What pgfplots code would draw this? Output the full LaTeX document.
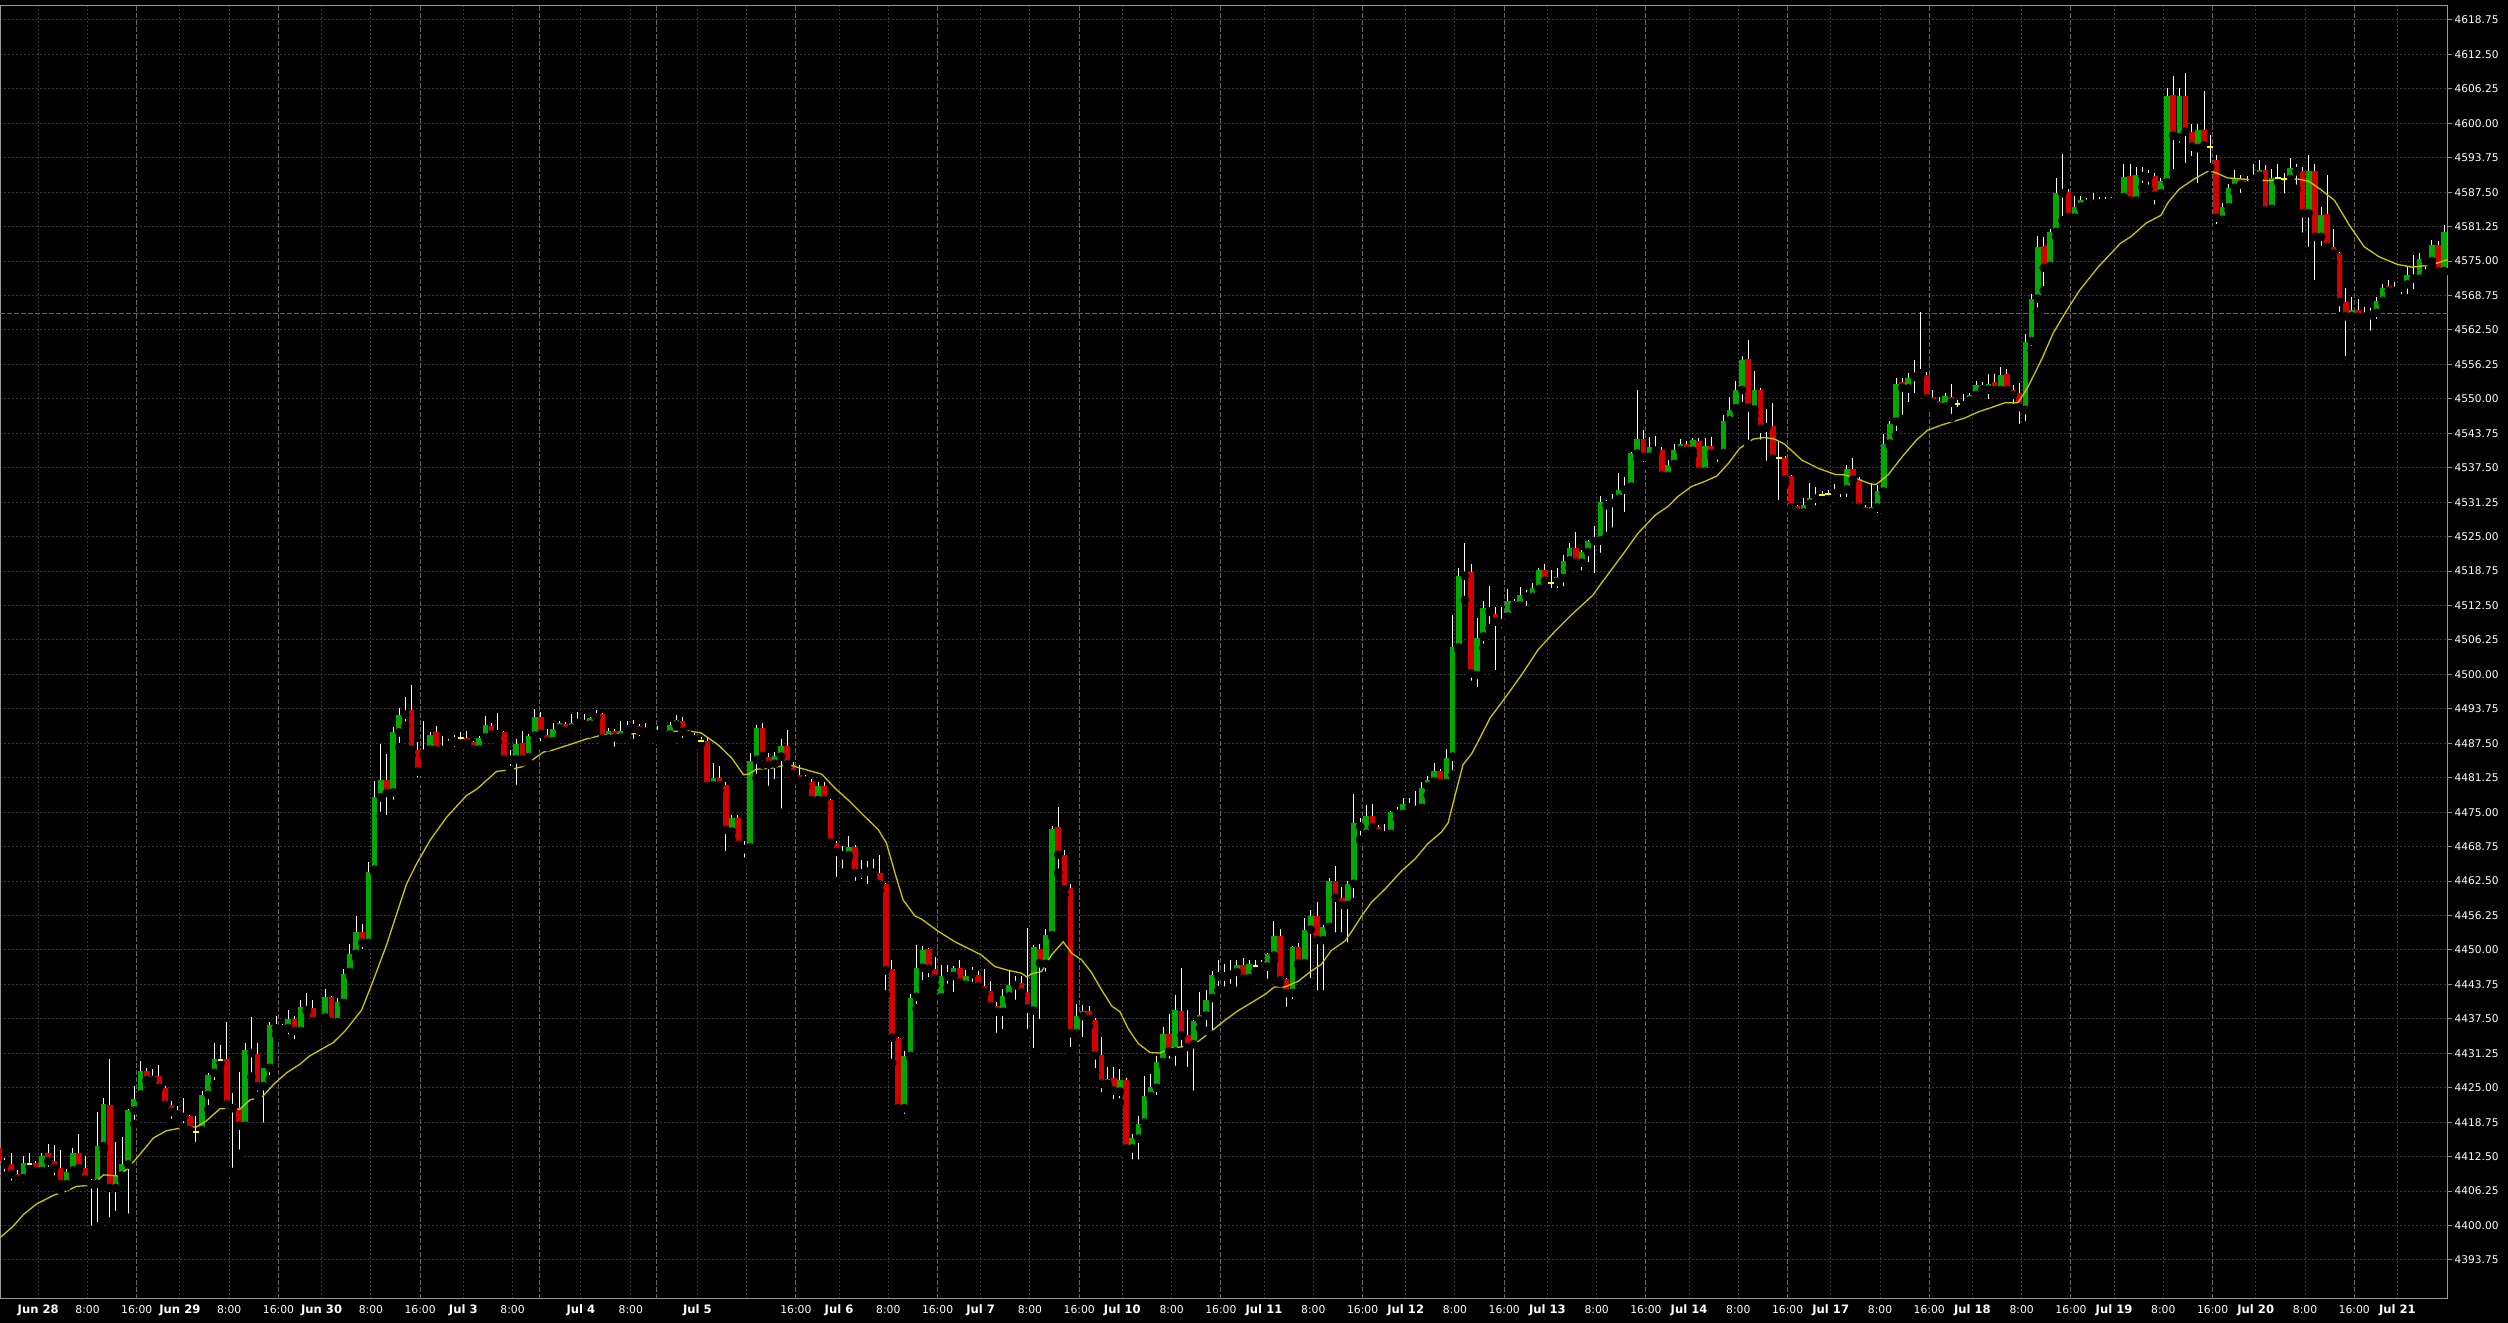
\documentclass[border=0pt]{standalone}
\usepackage{pgfplots}
\usepackage{pgfplotstable}
\pgfplotsset{compat=1.18}
\usepackage{fontspec}
\setmainfont{DejaVu Sans}
\definecolor{upcol}{RGB}{0,168,0}
\definecolor{dncol}{RGB}{212,0,0}
\definecolor{dojicol}{RGB}{255,255,0}
\definecolor{macol}{RGB}{200,200,0}
\definecolor{gridgray}{RGB}{56,56,56}
\definecolor{sessgray}{RGB}{100,100,100}
\definecolor{framegray}{RGB}{150,150,150}
\newcommand{\dl}[1]{{\fontsize{5.8}{6}\selectfont\bfseries #1}}
\pgfplotstableread{
j o h l c
-1 4414.0 4414.6 4411.3 4411.7
0 4411.7 4412.3 4409.0 4411.1
1 4411.1 4413.2 4407.4 4409.3
2 4409.3 4410.1 4407.0 4408.4
3 4408.6 4412.7 4407.0 4411.3
4 4411.2 4413.1 4410.6 4411.2
5 4411.3 4411.7 4408.4 4409.9
6 4409.9 4413.2 4409.0 4412.7
7 4413.1 4414.8 4409.9 4411.7
8 4411.7 4414.7 4408.3 4410.4
9 4410.4 4413.7 4406.4 4407.5
10 4407.5 4410.2 4407.1 4409.8
11 4410.0 4414.1 4409.7 4413.1
12 4413.1 4416.7 4409.9 4410.4
13 4410.4 4412.7 4408.1 4408.4
14 4408.1 4408.4 4399.2 4407.5
15 4407.6 4420.6 4399.8 4414.4
16 4414.4 4423.1 4413.8 4422.0
17 4421.8 4430.3 4400.7 4406.8
18 4406.8 4415.2 4401.9 4409.1
19 4409.1 4416.0 4408.2 4411.1
20 4411.1 4421.1 4401.4 4420.9
21 4420.9 4425.4 4418.4 4422.9
22 4423.8 4429.9 4422.8 4428.0
23 4428.0 4428.5 4426.2 4426.4
24 4426.4 4428.4 4425.0 4427.1
25 4427.1 4429.1 4424.9 4425.0
26 4425.0 4425.3 4421.8 4421.9
27 4421.9 4422.6 4418.6 4420.6
28 4420.6 4421.6 4419.3 4420.1
29 4420.1 4423.1 4417.8 4419.7
30 4419.8 4420.0 4416.6 4417.3
31 4417.0 4419.9 4414.4 4417.0
32 4417.3 4424.4 4416.7 4423.6
33 4423.7 4427.6 4421.1 4427.3
34 4427.7 4433.1 4425.6 4430.3
35 4430.0 4432.8 4429.5 4430.0
36 4430.2 4436.9 4420.5 4422.0
37 4422.0 4424.0 4409.7 4421.3
38 4421.3 4427.9 4413.0 4418.1
39 4418.1 4433.2 4417.2 4431.8
40 4431.8 4437.8 4427.0 4431.3
41 4431.2 4433.2 4423.5 4425.3
42 4425.3 4428.6 4417.9 4428.5
43 4428.6 4436.9 4426.5 4436.3
44 4436.4 4438.1 4434.7 4435.8
45 4435.6 4436.6 4434.1 4435.9
46 4435.8 4439.1 4433.9 4437.5
47 4437.4 4438.1 4433.0 4435.3
48 4435.3 4440.9 4435.0 4439.6
49 4439.6 4442.2 4438.9 4439.1
50 4439.4 4441.0 4436.1 4437.1
51 4437.5 4438.2 4437.0 4437.8
52 4437.8 4443.0 4436.8 4441.4
53 4441.4 4441.6 4436.5 4436.9
54 4436.9 4441.3 4435.6 4440.5
55 4440.4 4446.6 4440.0 4445.6
56 4446.0 4451.1 4445.2 4449.2
57 4449.3 4456.1 4448.6 4453.2
58 4453.2 4454.8 4449.4 4451.3
59 4451.3 4466.0 4451.0 4464.1
60 4464.6 4480.6 4464.0 4477.7
61 4477.7 4487.4 4474.3 4480.9
62 4480.9 4485.5 4473.7 4478.5
63 4478.6 4490.4 4476.5 4489.5
64 4489.5 4493.9 4486.8 4492.7
65 4492.7 4495.9 4490.7 4493.4
66 4493.6 4498.0 4485.3 4486.4
67 4486.2 4487.8 4480.5 4482.4
68 4485.6 4491.6 4485.3 4486.2
69 4486.4 4489.5 4486.0 4489.1
70 4489.5 4490.7 4484.9 4486.3
71 4486.3 4488.9 4484.9 4487.1
72 4487.2 4488.3 4486.9 4487.7
73 4487.8 4489.1 4486.1 4488.4
74 4488.4 4489.5 4487.4 4488.4
75 4488.5 4489.7 4487.3 4487.5
76 4487.7 4488.0 4484.9 4486.4
77 4486.4 4488.9 4486.2 4488.5
78 4488.6 4492.4 4488.3 4490.9
79 4490.7 4491.1 4488.3 4489.1
80 4489.1 4493.0 4487.7 4489.5
81 4489.5 4489.8 4484.1 4484.6
82 4484.9 4486.2 4482.6 4484.5
83 4484.6 4488.3 4479.2 4487.4
84 4487.6 4489.8 4484.1 4484.6
85 4485.0 4489.2 4484.1 4488.9
86 4488.9 4493.8 4488.0 4492.2
87 4492.2 4493.1 4487.1 4489.2
88 4489.1 4490.1 4486.8 4487.9
89 4487.9 4491.1 4487.3 4490.1
90 4490.2 4491.6 4488.9 4491.2
91 4491.0 4491.3 4488.9 4489.8
92 4490.2 4492.9 4489.8 4491.2
93 4491.2 4493.1 4490.7 4491.6
94 4491.8 4492.8 4490.9 4491.0
95 4490.9 4492.2 4489.3 4492.1
96 4492.2 4493.6 4492.1 4492.7
97 4492.8 4493.0 4486.9 4488.4
98 4488.4 4490.3 4487.3 4489.8
99 4489.8 4490.1 4486.1 4488.6
100 4488.6 4491.5 4488.3 4489.8
101 4490.0 4491.6 4489.2 4490.2
102 4490.2 4491.8 4487.5 4490.7
103 4490.7 4491.0 4488.0 4489.8
104 4489.6 4491.1 4488.0 4490.2
105 4490.2 4491.0 4489.2 4490.3
106 4489.8 4490.7 4488.0 4489.2
107 4489.0 4489.8 4487.7 4489.1
108 4489.1 4491.3 4487.5 4490.9
109 4490.9 4492.7 4490.7 4491.8
110 4491.6 4492.2 4487.7 4489.6
111 4489.6 4489.9 4487.5 4489.0
112 4489.0 4489.3 4487.5 4488.2
113 4488.0 4488.6 4487.4 4488.0
114 4487.9 4488.6 4479.0 4479.8
115 4479.9 4483.9 4478.5 4481.2
116 4481.2 4483.3 4478.9 4479.9
117 4479.9 4480.5 4467.2 4471.8
118 4471.5 4474.5 4470.0 4474.0
119 4474.0 4474.5 4468.5 4469.1
120 4469.1 4469.7 4466.0 4468.3
121 4468.6 4485.7 4467.7 4484.3
122 4484.5 4490.8 4481.2 4490.3
123 4490.3 4491.1 4483.6 4485.2
124 4485.1 4485.7 4479.0 4483.6
125 4483.8 4486.0 4480.2 4485.2
126 4485.1 4488.2 4474.9 4487.0
127 4487.0 4489.9 4483.1 4483.7
128 4483.5 4484.2 4481.5 4481.9
129 4481.7 4483.6 4480.2 4480.7
130 4481.0 4481.8 4479.6 4480.7
131 4480.5 4481.0 4476.3 4477.2
132 4477.2 4480.5 4476.5 4479.8
133 4479.8 4480.5 4476.1 4477.2
134 4477.2 4477.4 4469.2 4469.5
135 4469.5 4469.8 4462.5 4467.8
136 4467.8 4468.8 4464.0 4467.2
137 4467.2 4470.7 4466.9 4468.7
138 4468.7 4469.1 4461.8 4464.0
139 4463.9 4466.4 4462.1 4464.2
140 4464.2 4466.2 4461.2 4464.5
141 4464.6 4466.5 4462.8 4464.0
142 4463.9 4467.2 4460.8 4461.9
143 4461.9 4462.1 4441.9 4446.3
144 4446.5 4448.1 4429.5 4434.1
145 4434.1 4434.3 4420.3 4421.3
146 4421.3 4431.6 4419.5 4430.8
147 4430.8 4442.0 4430.4 4441.3
148 4441.5 4450.9 4439.4 4446.8
149 4446.8 4450.7 4443.7 4450.0
150 4450.1 4450.3 4444.3 4446.6
151 4446.5 4448.8 4443.5 4444.8
152 4441.4 4447.3 4441.3 4445.3
153 4445.5 4447.3 4443.1 4445.2
154 4445.3 4447.1 4441.6 4446.8
155 4446.7 4448.1 4442.6 4444.1
156 4443.7 4446.4 4442.6 4445.3
157 4445.6 4447.0 4443.4 4445.9
158 4445.5 4446.1 4442.9 4443.4
159 4443.5 4446.5 4442.0 4442.5
160 4442.5 4444.3 4439.3 4439.8
161 4439.8 4440.5 4434.2 4438.8
162 4438.8 4442.9 4434.9 4441.6
163 4441.6 4446.1 4440.8 4443.7
164 4443.6 4445.2 4440.2 4444.2
165 4444.0 4445.3 4441.7 4442.3
166 4442.3 4453.9 4434.9 4439.4
167 4439.0 4450.9 4431.4 4450.6
168 4450.1 4451.1 4436.7 4447.6
169 4447.5 4453.8 4445.3 4452.7
170 4452.7 4472.5 4452.4 4471.9
171 4472.3 4475.9 4464.0 4467.3
172 4467.3 4468.2 4460.0 4461.0
173 4461.3 4462.0 4431.6 4434.9
174 4434.9 4440.2 4433.6 4438.1
175 4438.0 4440.1 4433.4 4439.0
176 4439.0 4439.8 4436.2 4437.5
177 4437.3 4437.6 4427.8 4430.9
178 4431.0 4434.2 4423.4 4425.7
179 4425.7 4428.7 4425.2 4426.5
180 4426.8 4428.7 4422.2 4424.5
181 4424.3 4428.4 4422.3 4426.4
182 4426.4 4426.7 4413.0 4414.0
183 4414.0 4416.7 4411.2 4415.8
184 4415.8 4419.8 4411.2 4418.5
185 4418.7 4427.2 4418.0 4423.5
186 4423.5 4427.5 4422.9 4425.2
187 4425.0 4430.7 4422.9 4429.7
188 4429.7 4436.0 4429.0 4434.8
189 4434.8 4438.4 4429.5 4431.6
190 4431.6 4441.9 4428.2 4439.2
191 4438.9 4446.7 4431.5 4434.5
192 4434.5 4439.2 4428.0 4432.4
193 4432.9 4437.3 4423.7 4437.2
194 4437.2 4442.4 4435.8 4438.2
195 4438.1 4442.7 4435.3 4441.0
196 4441.3 4446.1 4434.6 4445.5
197 4445.5 4448.1 4442.7 4445.2
198 4445.7 4447.5 4442.6 4445.2
199 4445.5 4448.1 4443.1 4446.1
200 4446.0 4448.1 4442.6 4447.3
201 4447.3 4448.5 4443.8 4444.8
202 4444.9 4448.1 4443.6 4447.4
203 4447.1 4448.1 4446.1 4447.1
204 4447.3 4448.1 4445.4 4447.0
205 4447.0 4449.5 4444.0 4449.3
206 4449.0 4455.2 4448.1 4452.6
207 4452.6 4453.8 4444.0 4444.5
208 4444.7 4445.0 4438.9 4442.2
209 4442.2 4450.7 4440.3 4450.5
210 4450.5 4451.3 4447.1 4447.6
211 4447.6 4455.8 4447.4 4453.7
212 4453.7 4457.3 4444.1 4456.1
213 4456.1 4458.7 4441.9 4451.8
214 4451.8 4454.5 4441.9 4454.2
215 4454.2 4463.1 4453.9 4462.5
216 4462.5 4465.2 4452.4 4459.5
217 4459.5 4461.5 4452.4 4458.2
218 4458.2 4462.6 4450.6 4461.9
219 4462.0 4478.3 4458.7 4473.1
220 4473.0 4474.0 4470.0 4472.4
221 4471.1 4476.3 4470.0 4474.4
222 4474.4 4476.5 4471.2 4472.3
223 4472.3 4472.6 4470.0 4471.2
224 4471.2 4472.8 4469.8 4470.8
225 4471.1 4475.3 4470.9 4475.1
226 4475.0 4475.9 4473.8 4474.7
227 4474.7 4477.6 4473.8 4476.5
228 4476.3 4477.6 4475.1 4475.9
229 4475.9 4478.8 4475.1 4475.4
230 4475.8 4480.4 4474.4 4479.4
231 4479.7 4481.5 4478.1 4480.9
232 4480.6 4483.9 4480.1 4482.4
233 4482.4 4482.8 4479.7 4480.3
234 4480.3 4486.5 4479.9 4484.9
235 4485.1 4510.8 4481.8 4504.9
236 4504.9 4519.3 4504.4 4517.9
237 4517.9 4523.9 4513.5 4518.2
238 4518.6 4520.0 4498.1 4500.2
239 4499.9 4510.2 4496.9 4506.7
240 4506.9 4513.4 4504.8 4512.0
241 4512.0 4516.1 4508.4 4511.4
242 4511.0 4512.3 4500.0 4509.6
243 4509.3 4512.3 4507.6 4509.5
244 4510.5 4515.5 4509.2 4513.4
245 4513.3 4513.6 4512.0 4512.5
246 4512.5 4515.8 4512.0 4514.4
247 4514.7 4515.4 4511.6 4514.1
248 4514.1 4516.6 4513.2 4515.6
249 4515.5 4519.3 4515.5 4519.0
250 4519.0 4520.0 4516.4 4517.0
251 4516.6 4519.0 4514.9 4516.6
252 4516.8 4519.3 4514.9 4517.6
253 4517.5 4521.7 4515.2 4520.6
254 4520.7 4523.8 4519.3 4523.0
255 4523.0 4525.9 4519.6 4520.3
256 4520.3 4522.6 4518.1 4522.2
257 4522.2 4524.4 4519.6 4524.2
258 4524.6 4526.9 4517.6 4524.2
259 4524.3 4532.3 4521.3 4531.3
260 4531.3 4531.7 4525.1 4530.7
261 4531.1 4532.8 4525.9 4531.9
262 4531.9 4536.5 4530.8 4533.5
263 4533.5 4535.9 4528.7 4534.2
264 4534.1 4540.3 4533.4 4540.1
265 4540.1 4551.6 4539.2 4542.7
266 4542.7 4544.4 4537.8 4539.5
267 4539.5 4543.0 4538.4 4541.3
268 4541.3 4543.2 4540.3 4540.6
269 4540.7 4541.2 4534.5 4536.1
270 4536.0 4538.9 4535.2 4538.0
271 4538.2 4541.9 4538.0 4540.7
272 4540.7 4542.7 4540.4 4541.8
273 4541.8 4542.3 4540.3 4540.6
274 4540.6 4542.9 4539.8 4542.6
275 4542.4 4542.9 4536.0 4536.8
276 4536.8 4542.9 4536.4 4541.5
277 4541.5 4543.0 4539.5 4540.1
278 4540.1 4540.6 4537.8 4539.8
279 4540.2 4547.1 4539.0 4545.9
280 4546.1 4550.3 4545.8 4548.0
281 4548.3 4553.2 4548.0 4551.6
282 4551.6 4557.8 4548.7 4557.1
283 4557.2 4560.6 4541.8 4548.4
284 4548.1 4555.1 4546.9 4551.7
285 4551.7 4552.0 4541.8 4544.6
286 4544.8 4548.1 4538.0 4545.1
287 4545.1 4549.2 4538.0 4539.2
288 4539.2 4542.1 4530.9 4539.2
289 4539.3 4539.6 4534.7 4535.4
290 4536.0 4536.2 4529.7 4530.3
291 4530.6 4530.8 4528.1 4529.4
292 4529.4 4532.0 4528.2 4530.8
293 4530.9 4534.8 4530.9 4532.0
294 4531.9 4534.1 4529.9 4532.6
295 4532.5 4533.2 4532.0 4532.5
296 4532.7 4533.5 4531.7 4532.7
297 4532.9 4534.6 4532.3 4533.5
298 4533.5 4534.1 4531.4 4533.8
299 4533.6 4538.0 4531.4 4537.2
300 4537.2 4539.2 4535.3 4535.4
301 4535.4 4535.9 4529.9 4530.3
302 4530.3 4530.8 4528.6 4529.4
303 4529.4 4534.7 4528.6 4530.3
304 4530.3 4534.4 4528.5 4533.3
305 4533.2 4543.7 4532.7 4541.9
306 4541.9 4546.0 4541.5 4545.4
307 4545.9 4553.7 4543.4 4552.7
308 4553.1 4553.7 4546.3 4552.0
309 4551.9 4554.7 4548.6 4553.8
310 4554.0 4557.1 4550.3 4554.6
311 4555.0 4565.7 4554.3 4554.6
312 4554.4 4554.9 4549.1 4550.1
313 4550.3 4551.6 4548.5 4549.3
314 4549.7 4550.4 4548.3 4548.6
315 4548.6 4551.0 4548.5 4550.5
316 4550.3 4552.7 4546.5 4549.3
317 4549.0 4549.8 4547.7 4549.0
318 4548.8 4550.9 4548.7 4549.2
319 4549.7 4551.0 4548.9 4550.7
320 4550.7 4553.3 4549.8 4552.5
321 4552.5 4553.1 4551.0 4551.7
322 4551.7 4554.6 4549.2 4552.7
323 4553.1 4554.6 4551.3 4551.6
324 4551.6 4555.8 4551.3 4554.3
325 4554.5 4555.5 4551.0 4551.6
326 4551.6 4552.6 4548.3 4550.7
327 4551.1 4552.8 4544.7 4548.5
328 4548.0 4561.7 4545.2 4560.3
329 4560.5 4569.0 4558.8 4568.2
330 4568.2 4579.5 4565.8 4577.6
331 4577.7 4579.4 4569.7 4573.8
332 4574.1 4580.9 4573.5 4580.3
333 4580.3 4590.1 4579.4 4587.3
334 4587.3 4594.5 4582.4 4587.5
335 4587.6 4588.0 4582.1 4583.0
336 4582.9 4586.9 4582.1 4584.9
337 4584.9 4586.9 4584.5 4586.0
338 4585.7 4586.5 4584.5 4585.4
339 4585.4 4587.3 4584.3 4586.1
340 4586.1 4586.6 4584.5 4585.5
341 4585.5 4586.7 4584.8 4586.1
342 4586.1 4586.6 4584.9 4585.7
343 4585.8 4586.6 4585.7 4586.1
344 4586.6 4592.7 4585.3 4590.2
345 4590.5 4592.7 4585.3 4586.0
346 4586.0 4592.1 4584.8 4590.7
347 4590.7 4592.1 4588.4 4590.4
348 4590.2 4591.5 4588.1 4590.7
349 4590.5 4591.0 4584.5 4586.9
350 4587.3 4590.1 4586.1 4589.5
351 4589.3 4606.5 4589.2 4605.0
352 4605.2 4608.5 4590.9 4597.8
353 4597.5 4606.5 4595.7 4605.0
354 4605.0 4609.1 4592.0 4598.5
355 4598.5 4599.9 4593.3 4595.8
356 4595.5 4599.9 4588.4 4598.7
357 4598.7 4605.8 4595.5 4596.0
358 4595.7 4597.8 4592.0 4595.7
359 4593.3 4594.2 4580.9 4582.9
360 4582.5 4585.5 4581.7 4584.8
361 4584.8 4589.0 4584.2 4588.3
362 4588.3 4591.6 4587.5 4589.9
363 4589.9 4590.6 4586.6 4588.9
364 4588.7 4590.5 4587.2 4589.5
365 4589.9 4592.7 4589.6 4590.5
366 4590.5 4593.3 4590.2 4591.6
367 4591.6 4592.5 4583.3 4584.2
368 4584.5 4591.8 4583.5 4590.1
369 4590.0 4592.7 4589.4 4590.0
370 4589.9 4591.0 4586.5 4589.9
371 4589.9 4593.7 4589.5 4591.9
372 4591.6 4592.7 4588.1 4591.3
373 4591.3 4592.0 4579.4 4583.7
374 4583.7 4594.2 4576.8 4591.3
375 4591.3 4592.7 4570.8 4579.4
376 4579.4 4584.8 4577.0 4583.3
377 4583.5 4590.7 4576.4 4577.6
378 4577.6 4580.9 4574.7 4576.4
379 4576.4 4576.6 4565.0 4567.6
380 4567.6 4570.2 4557.0 4565.0
381 4565.0 4568.4 4564.6 4566.2
382 4566.2 4568.2 4564.0 4564.9
383 4564.9 4566.6 4564.2 4565.2
384 4565.2 4566.4 4561.6 4565.5
385 4565.6 4568.4 4563.7 4567.8
386 4567.8 4570.9 4567.3 4570.2
387 4570.4 4571.5 4568.2 4569.6
388 4569.6 4571.2 4568.2 4570.2
389 4570.2 4571.0 4568.2 4570.5
390 4570.8 4574.2 4568.2 4572.4
391 4572.4 4576.1 4569.1 4571.8
392 4571.8 4576.5 4570.8 4575.4
393 4575.3 4575.8 4572.7 4575.0
394 4575.0 4578.8 4574.2 4578.0
395 4578.0 4578.6 4572.4 4573.2
396 4573.2 4581.5 4573.0 4580.3
}\candles
\begin{document}
\begin{tikzpicture}
\fill[black] (0,0) rectangle (1254pt,661.5pt);
\begin{axis}[
  at={(0pt,12pt)}, anchor=south west,
  scale only axis, width=1224pt, height=646.5pt,
  xmin=-0.81, xmax=396.6, ymin=4386.67, ymax=4621.29,
  axis background/.style={fill=black},
  axis line style={draw=framegray, line width=0.5pt},
  ytick={4393.75,4400,4406.25,4412.5,4418.75,4425,4431.25,4437.5,4443.75,4450,4456.25,4462.5,4468.75,4475,4481.25,4487.5,4493.75,4500,4506.25,4512.5,4518.75,4525,4531.25,4537.5,4543.75,4550,4556.25,4562.5,4568.75,4575,4581.25,4587.5,4593.75,4600,4606.25,4612.5,4618.75},
  yticklabels={4393.75,4400.00,4406.25,4412.50,4418.75,4425.00,4431.25,4437.50,4443.75,4450.00,4456.25,4462.50,4468.75,4475.00,4481.25,4487.50,4493.75,4500.00,4506.25,4512.50,4518.75,4525.00,4531.25,4537.50,4543.75,4550.00,4556.25,4562.50,4568.75,4575.00,4581.25,4587.50,4593.75,4600.00,4606.25,4612.50,4618.75},
  ytick pos=right, yticklabel pos=right,
  tick align=outside, major tick length=2pt,
  y tick style={draw=framegray, line width=0.5pt},
  x tick style={draw=none},
  xtick={5.4,13.4,28.4,36.4,51.4,59.4,74.4,82.4,93.5,101.6,112.4,120.4,135.4,143.4,158.4,166.4,181.4,189.4,204.4,212.4,227.4,235.4,250.4,258.4,273.4,281.4,296.4,304.4,319.4,327.4,342.4,350.4,365.4,373.4,388.4},
  xticklabels={\dl{Jun 28},8:00,\dl{Jun 29},8:00,\dl{Jun 30},8:00,\dl{Jul 3},8:00,\dl{Jul 4},8:00,\dl{Jul 5},{},\dl{Jul 6},8:00,\dl{Jul 7},8:00,\dl{Jul 10},8:00,\dl{Jul 11},8:00,\dl{Jul 12},8:00,\dl{Jul 13},8:00,\dl{Jul 14},8:00,\dl{Jul 17},8:00,\dl{Jul 18},8:00,\dl{Jul 19},8:00,\dl{Jul 20},8:00,\dl{Jul 21}},
  extra x ticks={21.4,44.4,67.4,86.7,105.7,128.4,151.4,174.4,197.4,220.4,243.4,266.4,289.4,312.4,335.4,358.4,381.4},
  extra x tick labels={16:00,16:00,16:00,{},{},16:00,16:00,16:00,16:00,16:00,16:00,16:00,16:00,16:00,16:00,16:00,16:00},
  extra x tick style={major grid style={draw=sessgray, dash pattern=on 2.5pt off 1pt, line width=0.5pt}},
  xmajorgrids, ymajorgrids,
  major grid style={draw=gridgray, dash pattern=on 1pt off 1pt, line width=0.5pt},
  yticklabel style={font=\fontsize{5.3}{6}\selectfont, text=white, anchor=west, inner sep=0pt, xshift=1.2pt},
  xticklabel style={font=\fontsize{5.4}{6}\selectfont, text=white, anchor=base, inner sep=0pt, yshift=-5.5pt},
]
% light price line
\addplot[draw=sessgray, dash pattern=on 2.5pt off 1pt, line width=0.5pt, forget plot] coordinates {(-2,4565.5) (400,4565.5)};
% wicks
\addplot[only marks, mark=none, forget plot,
  error bars/.cd, y dir=plus, y explicit, error mark=none,
  error bar style={draw=white, line width=0.5pt}]
  table[x=j, y=l, y error plus expr=\thisrow{h}-\thisrow{l}] {\candles};
% up bodies
\addplot[only marks, mark=none, forget plot,
  restrict expr to domain={\thisrow{c}-\thisrow{o}}{0.05:1000},
  error bars/.cd, y dir=plus, y explicit, error mark=none,
  error bar style={draw=upcol, line width=2.85pt}]
  table[x=j, y=o, y error plus expr=\thisrow{c}-\thisrow{o}] {\candles};
% down bodies
\addplot[only marks, mark=none, forget plot,
  restrict expr to domain={\thisrow{o}-\thisrow{c}}{0.05:1000},
  error bars/.cd, y dir=plus, y explicit, error mark=none,
  error bar style={draw=dncol, line width=2.85pt}]
  table[x=j, y=c, y error plus expr=\thisrow{o}-\thisrow{c}] {\candles};
% doji
\addplot[only marks, mark=-, mark size=1.4pt, forget plot,
  mark options={draw=dojicol, line width=1pt},
  restrict expr to domain={\thisrow{c}-\thisrow{o}}{-0.05:0.05}]
  table[x=j, y=o] {\candles};
% moving average
\addplot[draw=macol, line width=0.65pt, mark=none] coordinates {
(-0.8,4397.8) (1.35,4399.9) (3.0,4402.0) (5.1,4403.9) (7.9,4405.5) (10.0,4406.3) (11.6,4407.1) (13.8,4407.3) (14.9,4408.1) (16.0,4409.2) (18.4,4409.0) (19.8,4410.2) (21.9,4412.9) (24.1,4415.9) (26.2,4417.2) (29.0,4417.8) (31.1,4417.9) (32.7,4419.0) (34.9,4421.2) (37.1,4421.2) (38.1,4421.1) (39.8,4422.8) (41.9,4423.5) (43.6,4425.6) (45.7,4427.7) (47.9,4429.3) (49.5,4430.8) (51.7,4432.2) (53.3,4433.2) (55.2,4435.3) (57.9,4439.1) (59.8,4444.5) (62.0,4451.1) (63.6,4456.6) (65.2,4462.0) (66.8,4465.6) (69.0,4469.9) (71.7,4474.1) (74.9,4478.0) (76.6,4479.2) (79.8,4482.4) (82.0,4482.7) (84.1,4483.3) (87.4,4485.9) (89.0,4486.3) (92.3,4487.5) (94.4,4488.3) (96.6,4488.9) (98.8,4489.2) (101.5,4489.2) (104.2,4489.3) (106.9,4489.5) (109.0,4489.7) (111.2,4489.7) (113.0,4489.4) (114.4,4488.3) (115.8,4487.2) (118.0,4484.8) (119.9,4481.8) (120.7,4481.9) (122.0,4482.8) (124.5,4483.0) (127.2,4483.7) (128.8,4483.1) (131.0,4482.4) (132.6,4481.9) (134.8,4479.3) (136.9,4477.2) (139.6,4474.2) (141.8,4471.8) (143.1,4469.4) (144.5,4463.9) (145.8,4459.1) (147.7,4456.2) (148.8,4455.6) (151.5,4453.4) (154.2,4451.5) (156.9,4450.0) (158.5,4449.1) (160.7,4447.0) (162.9,4446.3) (165.0,4445.8) (165.9,4445.1) (166.7,4445.7) (168.3,4446.1) (169.9,4449.1) (171.8,4451.5) (173.2,4449.4) (174.8,4448.2) (176.4,4445.9) (178.0,4442.8) (179.7,4439.8) (181.0,4438.8) (182.4,4435.6) (184.0,4433.0) (185.9,4431.4) (187.5,4431.3) (189.4,4432.2) (191.5,4432.5) (193.7,4433.4) (195.9,4435.3) (198.0,4437.2) (200.2,4439.0) (202.3,4440.4) (204.5,4441.9) (206.1,4443.3) (207.8,4443.3) (209.9,4444.3) (212.1,4446.2) (213.7,4447.4) (215.3,4449.9) (217.5,4451.6) (218.6,4453.3) (220.2,4456.1) (221.8,4458.6) (224.0,4461.0) (226.7,4464.3) (228.9,4466.5) (231.0,4469.3) (233.2,4471.4) (234.3,4473.1) (235.4,4478.0) (236.7,4483.6) (238.1,4485.6) (239.1,4487.7) (241.1,4492.1) (243.5,4495.7) (246.2,4499.9) (248.9,4504.5) (251.6,4507.8) (254.3,4510.8) (257.8,4514.4) (259.2,4516.6) (262.4,4521.4) (265.1,4525.6) (267.9,4528.9) (270.0,4530.5) (271.6,4532.3) (273.8,4534.1) (275.9,4535.0) (277.9,4536.0) (279.8,4538.3) (281.6,4541.0) (283.8,4542.7) (285.7,4543.0) (287.3,4542.7) (288.9,4541.8) (291.7,4538.9) (294.4,4537.4) (297.1,4536.3) (298.7,4536.2) (300.9,4535.4) (303.0,4534.5) (303.8,4534.5) (305.7,4536.2) (308.0,4539.5) (310.3,4542.5) (312.1,4544.3) (314.5,4545.3) (318.1,4546.5) (320.5,4547.7) (322.9,4548.6) (324.7,4549.3) (326.8,4549.3) (328.3,4551.9) (330.7,4557.3) (332.5,4561.9) (334.4,4565.5) (336.8,4569.7) (339.8,4573.9) (343.4,4578.2) (345.2,4579.5) (347.6,4581.9) (350.0,4583.3) (351.2,4585.7) (353.0,4588.1) (355.4,4589.9) (357.8,4591.4) (359.0,4591.0) (360.8,4590.1) (364.4,4589.8) (367.4,4589.6) (372.2,4589.9) (374.0,4589.5) (375.8,4588.1) (378.2,4586.0) (380.6,4581.5) (383.0,4577.6) (385.4,4575.8) (388.4,4574.4) (390.8,4573.9) (393.8,4574.3) (395.6,4574.9) (396.6,4575.3)
};
\end{axis}
\pgfresetboundingbox
\useasboundingbox (0,0) rectangle (1254pt,661.5pt);
\end{tikzpicture}
\end{document}
